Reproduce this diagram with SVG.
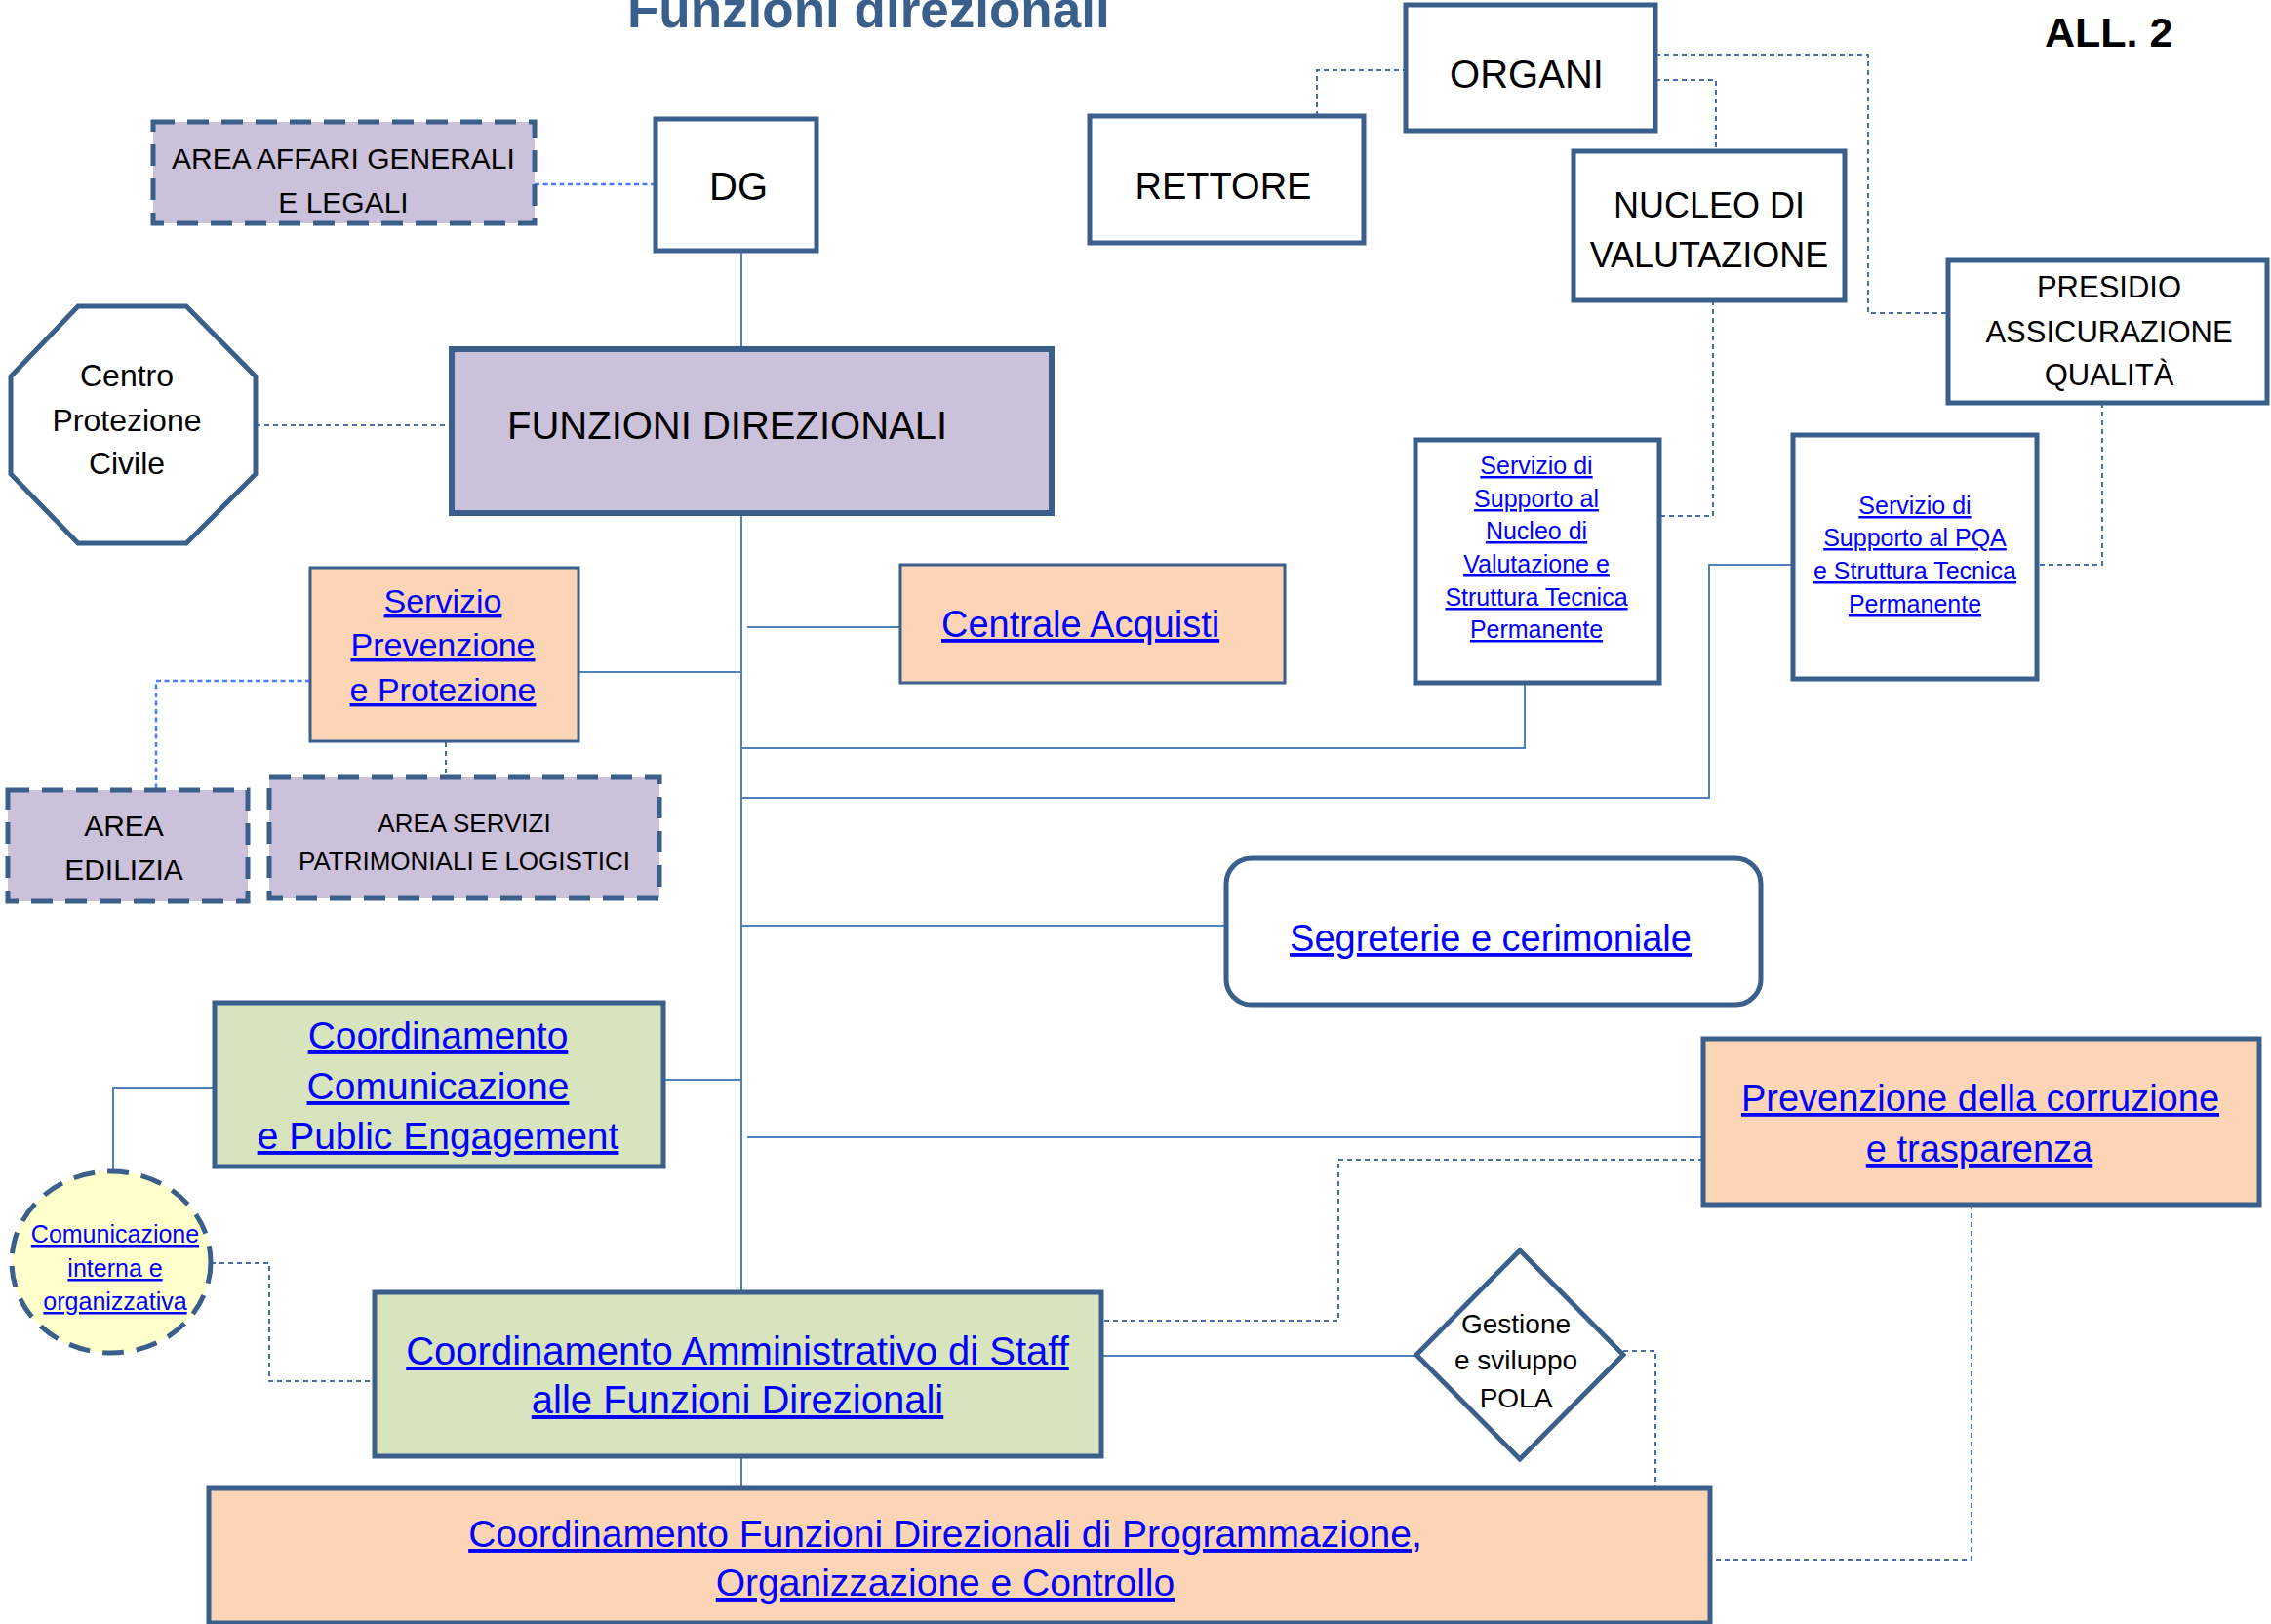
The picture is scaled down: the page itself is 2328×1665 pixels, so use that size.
<svg xmlns="http://www.w3.org/2000/svg" width="2328" height="1665" viewBox="0 0 2328 1665">
<style>
.box{stroke:#3a5f8b;stroke-width:5}
.thin{stroke-width:3}
.lav{fill:#ccc1da}
.peach{fill:#fbd5b5}
.green{fill:#d7e4bd}
.white{fill:#ffffff}
.yellow{fill:#ffffcc}
.dash{stroke-dasharray:22 13}
.conn{fill:none;stroke:#4f81bd;stroke-width:2}
.dconn{fill:none;stroke:#4a6fa5;stroke-width:2;stroke-dasharray:5 4}
.vconn{fill:none;stroke:#4d7cff;stroke-width:2.5;stroke-dasharray:5 3.5}
text{font-family:"Liberation Sans",Arial,sans-serif;fill:#000000}
.c{text-anchor:middle}
.lk{fill:#0000ff;text-decoration:underline}
</style>
<rect width="2328" height="1665" fill="#ffffff"/>
<text x="643" y="28" font-size="53" font-weight="bold" style="fill:#3a5f8b">Funzioni direzionali</text>
<text x="2096" y="48" font-size="43" font-weight="bold">ALL. 2</text>
<g id="connectors">
<path class="conn" d="M760 257 V358"/>
<path class="conn" d="M760 526 V1325"/>
<path class="conn" d="M760 1493 V1526"/>
<path class="conn" d="M593 689 H760"/>
<path class="conn" d="M766 643 H923"/>
<path class="conn" d="M760 767 H1563 V700"/>
<path class="conn" d="M760 818 H1752 V579 H1838"/>
<path class="conn" d="M760 949 H1257"/>
<path class="conn" d="M680 1107 H760"/>
<path class="conn" d="M220 1115 H116 V1200"/>
<path class="conn" d="M766 1166 H1746"/>
<path class="conn" d="M1129 1390 H1452"/>
<path class="vconn" d="M548 189 H672"/>
<path class="vconn" d="M318 698 H160 V810"/>
<path class="dconn" d="M457 761 V797"/>
<path class="dconn" d="M262 436 H463"/>
<path class="dconn" d="M1350 119 V72 H1441"/>
<path class="dconn" d="M1697 82 H1759 V155"/>
<path class="dconn" d="M1697 56 H1915 V321 H1997"/>
<path class="dconn" d="M1756 308 V529 H1701"/>
<path class="dconn" d="M2155 413 V579 H2088"/>
<path class="dconn" d="M1746 1189 H1372 V1354 H1129"/>
<path class="dconn" d="M2021 1235 V1599 H1753"/>
<path class="dconn" d="M216 1295 H276 V1416 H384"/>
<path class="dconn" d="M1664 1385 H1697 V1525"/>
</g>
<g id="area-affari">
<rect class="box lav dash" x="157" y="125" width="391" height="104"/>
<text class="c" x="352" y="173" font-size="30">AREA AFFARI GENERALI</text>
<text class="c" x="352" y="218" font-size="30">E LEGALI</text>
</g>
<g id="dg">
<rect class="box white" x="672" y="122" width="165" height="135"/>
<text class="c" x="757" y="205" font-size="40">DG</text>
</g>
<g id="funzioni">
<rect class="box lav" style="stroke-width:6" x="463" y="358" width="615" height="168"/>
<text x="520" y="450" font-size="40">FUNZIONI DIREZIONALI</text>
</g>
<g id="protezione-civile">
<polygon class="box white" points="80,314 191,314 262,386 262,486 191,557 80,557 11,486 11,386"/>
<text class="c" x="130" y="396" font-size="32">Centro</text>
<text class="c" x="130" y="442" font-size="32">Protezione</text>
<text class="c" x="130" y="486" font-size="32">Civile</text>
</g>
<g id="organi">
<rect class="box white" x="1441" y="5" width="256" height="129"/>
<text class="c" x="1565" y="90" font-size="40">ORGANI</text>
</g>
<g id="rettore">
<rect class="box white" x="1117" y="119" width="281" height="130"/>
<text class="c" x="1254" y="204" font-size="38">RETTORE</text>
</g>
<g id="nucleo">
<rect class="box white" x="1613" y="155" width="278" height="153"/>
<text class="c" x="1752" y="223" font-size="36">NUCLEO DI</text>
<text class="c" x="1752" y="274" font-size="36">VALUTAZIONE</text>
</g>
<g id="presidio">
<rect class="box white" x="1997" y="267" width="327" height="146"/>
<text class="c" x="2162" y="305" font-size="31">PRESIDIO</text>
<text class="c" x="2162" y="351" font-size="31">ASSICURAZIONE</text>
<text class="c" x="2162" y="395" font-size="31">QUALITÀ</text>
</g>
<g id="supporto-nucleo">
<rect class="box white" x="1451" y="451" width="250" height="249"/>
<text class="c lk" x="1575" y="486" font-size="25">Servizio di</text>
<text class="c lk" x="1575" y="520" font-size="25">Supporto al</text>
<text class="c lk" x="1575" y="553" font-size="25">Nucleo di</text>
<text class="c lk" x="1575" y="587" font-size="25">Valutazione e</text>
<text class="c lk" x="1575" y="621" font-size="25">Struttura Tecnica</text>
<text class="c lk" x="1575" y="654" font-size="25">Permanente</text>
</g>
<g id="supporto-pqa">
<rect class="box white" x="1838" y="446" width="250" height="250"/>
<text class="c lk" x="1963" y="527" font-size="25">Servizio di</text>
<text class="c lk" x="1963" y="560" font-size="25">Supporto al PQA</text>
<text class="c lk" x="1963" y="594" font-size="25">e Struttura Tecnica</text>
<text class="c lk" x="1963" y="628" font-size="25">Permanente</text>
</g>
<g id="servizio-prevenzione">
<rect class="box thin peach" x="318" y="582" width="275" height="178"/>
<text class="c lk" x="454" y="628" font-size="34">Servizio</text>
<text class="c lk" x="454" y="673" font-size="34">Prevenzione</text>
<text class="c lk" x="454" y="719" font-size="34">e Protezione</text>
</g>
<g id="area-edilizia">
<rect class="box lav dash" x="8" y="810" width="246" height="114"/>
<text class="c" x="127" y="857" font-size="30">AREA</text>
<text class="c" x="127" y="902" font-size="30">EDILIZIA</text>
</g>
<g id="area-servizi">
<rect class="box lav dash" x="276" y="797" width="400" height="124"/>
<text class="c" x="476" y="853" font-size="26">AREA SERVIZI</text>
<text class="c" x="476" y="892" font-size="26">PATRIMONIALI E LOGISTICI</text>
</g>
<g id="centrale-acquisti">
<rect class="box thin peach" x="923" y="579" width="394" height="121"/>
<text class="lk" x="965" y="653" font-size="38">Centrale Acquisti</text>
</g>
<g id="segreterie">
<rect class="box white" x="1257" y="880" width="548" height="150" rx="26" ry="26"/>
<text class="c lk" x="1528" y="975" font-size="38">Segreterie e cerimoniale</text>
</g>
<g id="prevenzione-corruzione">
<rect class="box peach" x="1746" y="1065" width="570" height="170"/>
<text class="c lk" x="2030" y="1139" font-size="38">Prevenzione della corruzione</text>
<text class="c lk" x="2029" y="1191" font-size="38">e trasparenza</text>
</g>
<g id="coord-comunicazione">
<rect class="box green" x="220" y="1028" width="460" height="168"/>
<text class="c lk" x="449" y="1075" font-size="39">Coordinamento</text>
<text class="c lk" x="449" y="1127" font-size="39">Comunicazione</text>
<text class="c lk" x="449" y="1178" font-size="39">e Public Engagement</text>
</g>
<g id="comunicazione-interna">
<ellipse class="box yellow dash" cx="114" cy="1294" rx="102" ry="93"/>
<text class="c lk" x="118" y="1274" font-size="25">Comunicazione</text>
<text class="c lk" x="118" y="1309" font-size="25">interna e</text>
<text class="c lk" x="118" y="1343" font-size="25">organizzativa</text>
</g>
<g id="coord-amministrativo">
<rect class="box green" x="384" y="1325" width="745" height="168"/>
<text class="c lk" x="756" y="1399" font-size="40">Coordinamento Amministrativo di Staff</text>
<text class="c lk" x="756" y="1449" font-size="40">alle Funzioni Direzionali</text>
</g>
<g id="pola">
<polygon class="box white" points="1558,1282 1664,1389 1558,1496 1452,1389"/>
<text class="c" x="1554" y="1367" font-size="28">Gestione</text>
<text class="c" x="1554" y="1404" font-size="28">e sviluppo</text>
<text class="c" x="1554" y="1443" font-size="28">POLA</text>
</g>
<g id="coord-funzioni">
<rect class="box peach" x="214" y="1526" width="1539" height="138"/>
<text class="c lk" x="969" y="1586" font-size="39">Coordinamento Funzioni Direzionali di Programmazione,</text>
<text class="c lk" x="969" y="1636" font-size="39">Organizzazione e Controllo</text>
</g>
</svg>
